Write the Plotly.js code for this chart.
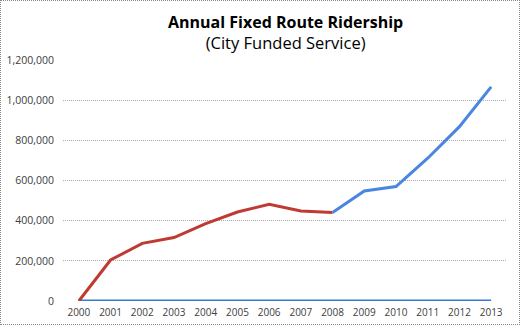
<!DOCTYPE html>
<html>
<head>
<meta charset="utf-8">
<script src="https://cdn.plot.ly/plotly-3.0.1.min.js"></script>
<style>
html,body{margin:0;padding:0;background:#fff;}
#chart{width:518px;height:323px;border:1px dotted #888;}
</style>
</head>
<body>
<div id="chart"></div>
<script>
var years = ["2000","2001","2002","2003","2004","2005","2006","2007","2008","2009","2010","2011","2012","2013"];
var cityYears = ["2000","2001","2002","2003","2004","2005","2006","2007","2008"];
var cityValues = [0, 204000, 287000, 316000, 385000, 443000, 482000, 448000, 441000];
var laterYears = ["2008","2009","2010","2011","2012","2013"];
var laterValues = [441000, 548000, 570000, 711000, 868000, 1066000];
var zeroValues = [0,0,0,0,0,0,0,0,0,0,0,0,0,0];
var yTicks = [0, 200000, 400000, 600000, 800000, 1000000, 1200000];
var yTickLabels = ["0","200,000","400,000","600,000","800,000","1,000,000","1,200,000"];
var titleText = "Annual Fixed Route Ridership";
var subtitleText = "(City Funded Service)";

var traces = [
  {x: years, y: zeroValues, type: "scatter", mode: "lines",
   line: {color: "#3B78D0", width: 3}, hoverinfo: "skip"},
  {x: cityYears, y: cityValues, type: "scatter", mode: "lines",
   line: {color: "#BF3A32", width: 3}},
  {x: laterYears, y: laterValues, type: "scatter", mode: "lines",
   line: {color: "#4A86E0", width: 3}}
];

var layout = {
  width: 518, height: 323,
  margin: {l: 62, r: 12, t: 59, b: 23},
  paper_bgcolor: "#fff", plot_bgcolor: "#fff",
  showlegend: false,
  font: {family: "Open Sans, Liberation Sans, sans-serif", color: "#404040", size: 10},
  annotations: [
    {text: "<b>" + titleText + "</b><br><span style='font-size:16.5px'>" + subtitleText + "</span>",
     xref: "paper", yref: "paper",
     x: 0.5, xanchor: "center", y: 1, yshift: 28, yanchor: "middle",
     showarrow: false, font: {family: "Open Sans, sans-serif", size: 16, color: "#000"}}
  ],
  xaxis: {
    type: "category", categoryorder: "array", categoryarray: years,
    range: [-0.5, 13.5],
    showgrid: false, zeroline: false, showline: false,
    ticks: "", ticklabelstandoff: 4, tickfont: {size: 10, color: "#404040"}
  },
  yaxis: {
    range: [0, 1200000], tickvals: yTicks, ticktext: yTickLabels,
    showgrid: true, gridcolor: "#aaa", griddash: "1px,1px", gridwidth: 1,
    zeroline: false, showline: false, ticks: "",
    ticklabelstandoff: 8,
    tickfont: {size: 10.5, color: "#404040"}
  }
};

Plotly.newPlot("chart", traces, layout, {displayModeBar: false, staticPlot: true});
</script>
</body>
</html>
